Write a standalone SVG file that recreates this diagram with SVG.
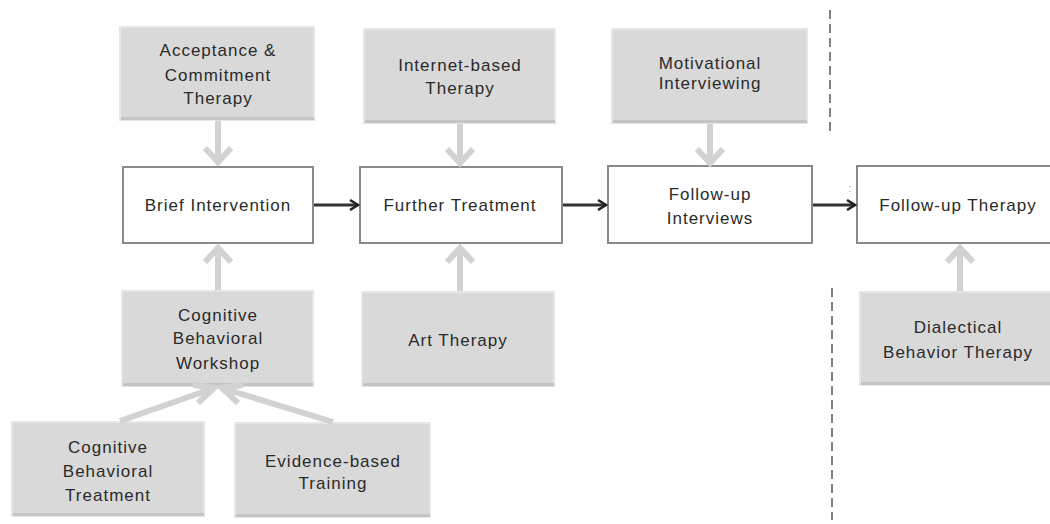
<svg xmlns="http://www.w3.org/2000/svg" width="1050" height="524" viewBox="0 0 1050 524">
<defs>
<style>
.g rect{fill:#d9d9d9;stroke:#e6e6e6;stroke-width:2}
.g .sh{fill:#c4c4c4;stroke:none}
.w rect{fill:#ffffff;stroke:#8a8a8a;stroke-width:2}
text{font-family:"Liberation Sans",Arial,sans-serif;font-size:17px;letter-spacing:1px;fill:#2a2a2a;text-anchor:middle}
.ga{stroke:#d2d2d2;stroke-width:6;fill:none;stroke-linecap:butt;stroke-linejoin:miter}
.ba{stroke:#333;stroke-width:3;fill:none}
.dash{stroke:#808080;stroke-width:2;stroke-dasharray:9 5}
</style>
<marker id="bh" markerWidth="12" markerHeight="12" refX="10" refY="6" orient="auto" markerUnits="userSpaceOnUse">
<path d="M2,1 L10,6 L2,11" fill="none" stroke="#222" stroke-width="2.5"/>
</marker>
</defs>
<rect width="1050" height="524" fill="#ffffff"/>

<g id="dividers">
<line class="dash" x1="830" y1="10" x2="830" y2="136"/>
<line class="dash" x1="832" y1="288" x2="832" y2="520"/>
</g>

<g id="n-act" class="g"><rect x="120" y="27" width="194" height="93"/><rect class="sh" x="121" y="117" width="193" height="3"/>
<text x="218" y="56">Acceptance &amp;</text><text x="218" y="81">Commitment</text><text x="218" y="104">Therapy</text></g>
<g id="n-internet" class="g"><rect x="364" y="29" width="191" height="94"/><rect class="sh" x="365" y="120" width="190" height="3"/>
<text x="460" y="71">Internet-based</text><text x="460" y="94">Therapy</text></g>
<g id="n-motiv" class="g"><rect x="612" y="29" width="195" height="94"/><rect class="sh" x="613" y="120" width="194" height="3"/>
<text x="710" y="69">Motivational</text><text x="710" y="89">Interviewing</text></g>

<g id="n-brief" class="w"><rect x="123" y="167" width="190" height="76"/><text x="218" y="211">Brief Intervention</text></g>
<g id="n-further" class="w"><rect x="360" y="167" width="202" height="76"/><text x="460" y="211">Further Treatment</text></g>
<g id="n-fuint" class="w"><rect x="608" y="166" width="204" height="77"/><text x="710" y="200">Follow-up</text><text x="710" y="224">Interviews</text></g>
<g id="n-futher" class="w"><rect x="857" y="166" width="200" height="77"/><text x="958" y="211">Follow-up Therapy</text></g>

<g id="n-cbw" class="g"><rect x="122" y="291" width="191" height="95"/><rect class="sh" x="123" y="383" width="190" height="3"/>
<text x="218" y="321">Cognitive</text><text x="218" y="344">Behavioral</text><text x="218" y="369">Workshop</text></g>
<g id="n-art" class="g"><rect x="362" y="292" width="192" height="94"/><rect class="sh" x="363" y="383" width="191" height="3"/>
<text x="458" y="346">Art Therapy</text></g>
<g id="n-dbt" class="g"><rect x="860" y="292" width="195" height="93"/><rect class="sh" x="861" y="382" width="194" height="3"/>
<text x="958" y="333">Dialectical</text><text x="958" y="358">Behavior Therapy</text></g>
<g id="n-cbt" class="g"><rect x="12" y="422" width="192" height="94"/><rect class="sh" x="13" y="513" width="191" height="3"/>
<text x="108" y="453">Cognitive</text><text x="108" y="477">Behavioral</text><text x="108" y="501">Treatment</text></g>
<g id="n-ebt" class="g"><rect x="235" y="423" width="195" height="94"/><rect class="sh" x="236" y="514" width="194" height="3"/>
<text x="333" y="467">Evidence-based</text><text x="333" y="489">Training</text></g>

<g id="connectors">
<path class="ga" d="M218,121 V162 M205,148 L218,162 L231,148"/>
<path class="ga" d="M460,124 V163 M447,149 L460,163 L473,149"/>
<path class="ga" d="M710,124 V163 M697,149 L710,163 L723,149"/>
<path class="ga" d="M218,290 V248 M205,262 L218,248 L231,262"/>
<path class="ga" d="M460,291 V248 M447,262 L460,248 L473,262"/>
<path class="ga" d="M960,291 V248 M947,262 L960,248 L973,262"/>
<path class="ga" d="M120,421 L214,388 M198,403 L214,388 L193,385"/>
<path class="ga" d="M333,422 L222,388 M243,385 L222,388 L238,403"/>
<line class="ba" x1="314" y1="205" x2="358" y2="205" marker-end="url(#bh)"/>
<line class="ba" x1="563" y1="205" x2="606" y2="205" marker-end="url(#bh)"/>
<line class="ba" x1="813" y1="205" x2="855" y2="205" marker-end="url(#bh)"/>
<text x="850" y="192" style="font-size:10px;letter-spacing:0;fill:#999">:</text>
</g>
</svg>
